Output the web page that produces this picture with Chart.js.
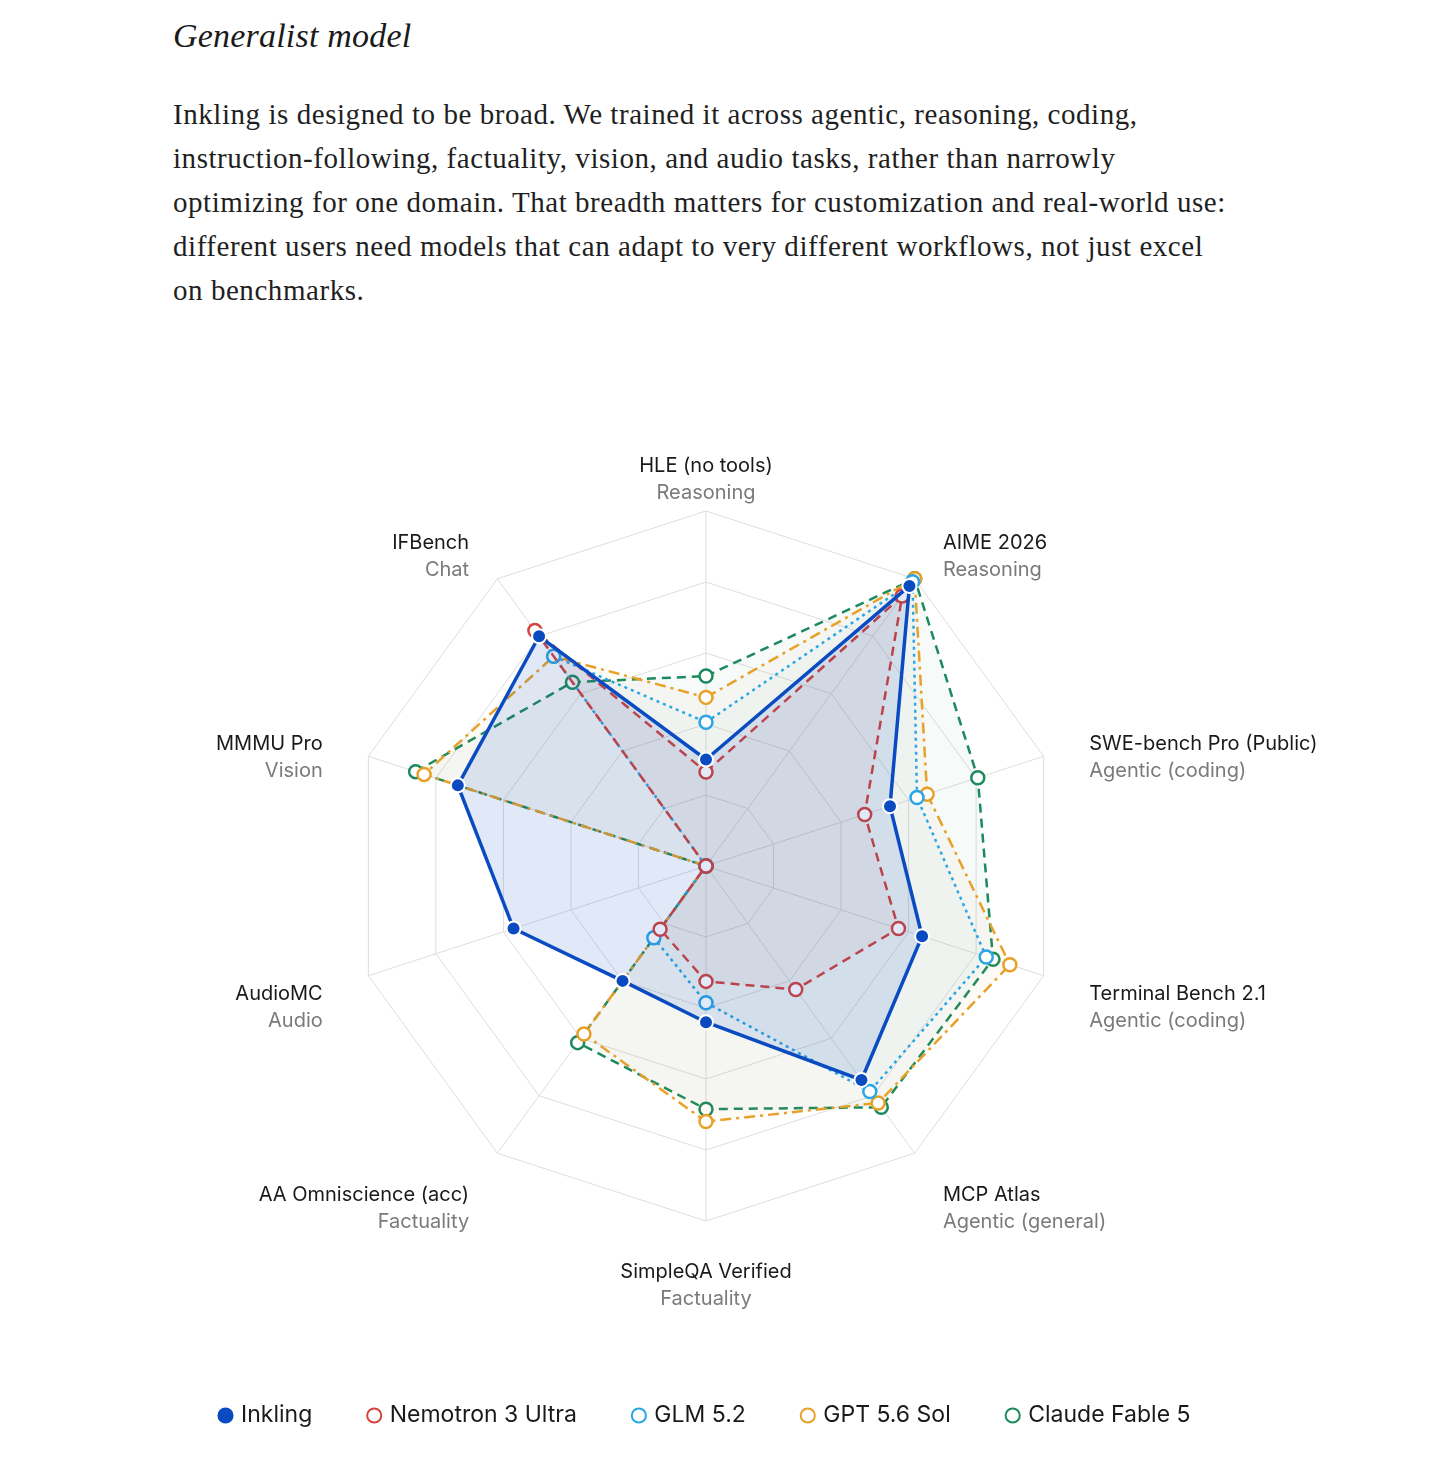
<!DOCTYPE html>
<html>
<head>
<meta charset="utf-8">
<script src="https://cdn.jsdelivr.net/npm/chart.js@4.4.1/dist/chart.umd.min.js"></script>
<style>
  body { margin: 0; background: #fff; width: 1456px; height: 1463px; position: relative; overflow: hidden; }
  h2 { position: absolute; left: 173px; top: 17px; margin: 0; font: italic 400 34px "Liberation Serif", serif; color: #1a1a1a; letter-spacing: 0.2px; }
  p.lead { position: absolute; left: 173px; top: 92px; margin: 0; font: 400 29px/44px "Liberation Serif", serif; letter-spacing: 0.55px; color: #1f1f1f; white-space: nowrap; }
  #wrap { position: absolute; left: 0; top: 400px; width: 1456px; height: 1063px; }
</style>
</head>
<body>
<h2>Generalist model</h2>
<p class="lead">Inkling is designed to be broad. We trained it across agentic, reasoning, coding,<br>instruction-following, factuality, vision, and audio tasks, rather than narrowly<br>optimizing for one domain. That breadth matters for customization and real-world use:<br>different users need models that can adapt to very different workflows, not just excel<br>on benchmarks.</p>
<div id="wrap"><canvas id="radar"></canvas></div>
<script>
// benchmark axes, clockwise from the top
const benchmarks = ['HLE (no tools)', 'AIME 2026', 'SWE-bench Pro (Public)', 'Terminal Bench 2.1', 'MCP Atlas',
  'SimpleQA Verified', 'AA Omniscience (acc)', 'AudioMC', 'MMMU Pro', 'IFBench'];
const categories = ['Reasoning', 'Reasoning', 'Agentic (coding)', 'Agentic (coding)', 'Agentic (general)',
  'Factuality', 'Factuality', 'Audio', 'Vision', 'Chat'];

// normalised scores (0-100)
const inkling  = [30, 97.5, 54.5, 64, 74.5, 44, 40, 57, 73.5, 80];
const nemotron = [26.5, 94, 47, 57, 43, 32.5, 22, 0, 0, 82];
const glm      = [40.5, 99, 62.5, 83, 78.5, 38.5, 25, 0, 0, 73];
const gpt      = [47.5, 100, 65.5, 90, 82.5, 72, 58.5, 0, 83.5, 73];
const claude   = [53.5, 100, 80.5, 85, 84, 68.5, 61.5, 0, 86, 64];

const labelFont = '"Inter", "Noto Sans", sans-serif';

const hollow = (label, data, color, fill, dash) => ({
  label, data,
  borderColor: color,
  backgroundColor: fill,
  borderWidth: 2.5,
  borderDash: dash,
  fill: true,
  pointRadius: 6.5,
  pointBorderWidth: 2.5,
  pointBorderColor: color,
  pointBackgroundColor: '#fff'
});

// two-line axis labels: benchmark name + grey category
const axisLabels = {
  id: 'axisLabels',
  afterDraw(chart) {
    const r = chart.scales.r;
    const ctx = chart.ctx;
    ctx.save();
    ctx.font = '400 20px ' + labelFont;
    ctx.textBaseline = 'middle';
    benchmarks.forEach((name, i) => {
      const p = r.getPointPosition(i, r.drawingArea + 48);
      const dx = p.x - r.xCenter;
      ctx.textAlign = Math.abs(dx) < 2 ? 'center' : (dx > 0 ? 'left' : 'right');
      ctx.fillStyle = '#1a1a1a';
      ctx.fillText(name, p.x, p.y + 3);
      ctx.fillStyle = '#7a7a7a';
      ctx.fillText(categories[i], p.x, p.y + 30);
    });
    ctx.restore();
  }
};

new Chart(document.getElementById('radar'), {
  type: 'radar',
  data: {
    labels: benchmarks,
    datasets: [
      {
        label: 'Inkling', data: inkling,
        borderColor: '#0a4bc2',
        backgroundColor: 'rgba(10,75,194,0.12)',
        borderWidth: 3.5,
        fill: true,
        pointRadius: 7,
        pointBorderWidth: 2,
        pointBorderColor: '#fff',
        pointBackgroundColor: '#0a4bc2'
      },
      hollow('Nemotron 3 Ultra', nemotron, '#d4443c', 'rgba(212,68,60,0.05)', [9, 6]),
      hollow('GLM 5.2', glm, '#2aa6e6', 'rgba(42,166,230,0.03)', [3, 4]),
      hollow('GPT 5.6 Sol', gpt, '#e8a128', 'rgba(232,161,40,0.04)', [11, 5, 3, 5]),
      hollow('Claude Fable 5', claude, '#1c8a5c', 'rgba(28,138,92,0.04)', [9, 6])
    ]
  },
  options: {
    responsive: true,
    maintainAspectRatio: false,
    animation: false,
    layout: { padding: { left: 0, right: 44, top: 111, bottom: 26 } },
    scales: {
      r: {
        min: 0, max: 100,
        ticks: { display: false, stepSize: 20 },
        grid: { color: '#dddddd', lineWidth: 1 },
        angleLines: { color: '#dddddd', lineWidth: 1 },
        pointLabels: { display: false }
      }
    },
    plugins: {
      tooltip: { enabled: false },
      legend: {
        position: 'bottom',
        title: { display: true, text: '', padding: { top: 110, bottom: 0 } },
        labels: {
          usePointStyle: true,
          pointStyle: 'circle',
          boxWidth: 8,
          boxHeight: 10,
          padding: 58,
          color: '#1a1a1a',
          font: { family: labelFont, size: 23 },
          generateLabels(chart) {
            const items = Chart.defaults.plugins.legend.labels.generateLabels(chart);
            // solid dot for Inkling (no white ring)
            items[0].strokeStyle = items[0].fillStyle;
            items.slice(1).forEach(it => { it.lineWidth = 2; });
            return items;
          }
        }
      }
    }
  },
  plugins: [axisLabels]
});
</script>
</body>
</html>
